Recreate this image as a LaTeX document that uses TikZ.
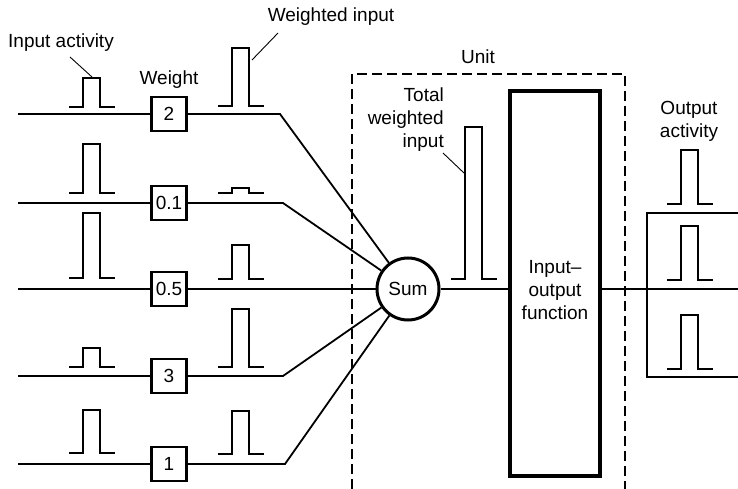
\documentclass[tikz,border=0pt]{standalone}
\usepackage{fontspec}
\setmainfont{Liberation Sans}
\newcommand{\mypulse}[3]{\draw[pulse] (#1,#2) -- ({#1+14},#2) -- ({#1+14},#3) -- ({#1+31},#3) -- ({#1+31},#2) -- ({#1+46},#2);}
\begin{document}
\begin{tikzpicture}[x=1pt,y=-1pt,
  lbl/.style={font=\fontsize{19}{23}\selectfont, inner sep=0pt},
  wbox/.style={draw, fill=white, line width=2.8pt, minimum width=35pt, minimum height=34pt, inner sep=0pt, font=\fontsize{19}{23}\selectfont},
  wire/.style={line width=1.8pt},
  pulse/.style={line width=2.3pt, line join=miter},
  leader/.style={line width=0.9pt},
  unitbox/.style={line width=1.5pt, dash pattern=on 10pt off 5pt},
  sumnode/.style={draw, circle, line width=3pt, minimum size=62pt, inner sep=0pt, font=\fontsize{19}{23}\selectfont},
  iobox/.style={draw, line width=4pt, minimum width=90pt, minimum height=384pt, inner sep=0pt}
]
\useasboundingbox (0,0) rectangle (738,489);

% unit box (dashed)
\draw[unitbox] (352,489) -- (352,74) -- (625,74) -- (625,489);
\node[lbl] (unitlbl) at (478,57) {Unit};

% nodes
\node[sumnode] (sum) at (408,289) {Sum};
\node[iobox] (io) at (554.5,283.5) {};
\node[lbl, align=center] (iotext) at (555,290) {Input--\\output\\function};

\foreach \i/\y/\w in {1/114/2, 2/203/0.1, 3/289/0.5, 4/376/3, 5/464/1} {
  \coordinate (in\i) at (18,\y);
  \node[wbox] (w\i) at (169,\y) {\w};
}
\coordinate (b1) at (280,114);
\coordinate (b2) at (283,203);
\coordinate (b4) at (283,376);
\coordinate (b5) at (285,464);

% wires
\foreach \i in {1,...,5} { \draw[wire] (in\i) -- (w\i); }
\draw[wire] (w1) -- (b1) -- (sum);
\draw[wire] (w2) -- (b2) -- (sum);
\draw[wire] (w3) -- (sum);
\draw[wire] (w4) -- (b4) -- (sum);
\draw[wire] (w5) -- (b5) -- (sum);
\draw[wire] (sum.east) -- (sum.east -| io.west);
\coordinate (outend) at (738,289);
\draw[wire] (io.east |- sum) -- (outend);

% output bracket
\coordinate (bt) at (738,213);
\coordinate (bb) at (738,377);
\draw[wire] (bt) -- (647,213) -- (647,377) -- (bb);

% input pulses
\mypulse{69}{107}{78}
\mypulse{69}{193}{144}
\mypulse{69}{278}{213}
\mypulse{69}{367}{348}
\mypulse{69}{453}{410}
% weighted pulses
\mypulse{218}{106}{48}
\mypulse{218}{193}{188}
\mypulse{218}{279}{245}
\mypulse{218}{367}{309}
\mypulse{218}{454}{411}
% total weighted input
\mypulse{451}{279}{127}
% output pulses
\mypulse{667}{204}{150}
\mypulse{667}{280}{226}
\mypulse{667}{369}{315}

% labels
\node[lbl] (inact) at (61,43) {Input activity};
\draw[leader] (70,57) -- (92,77);
\node[lbl] (weightlbl) at (169,80) {Weight};
\node[lbl] (winlbl) at (331,17) {Weighted input};
\draw[leader] (278,33) -- (252,60);
\node[lbl, align=right, anchor=east] (totlbl) at (444,120) {Total\\weighted\\input};
\draw[leader] (443,153) -- (464,173);
\node[lbl, align=center] (outlbl) at (689,121) {Output\\activity};
\end{tikzpicture}
\end{document}
